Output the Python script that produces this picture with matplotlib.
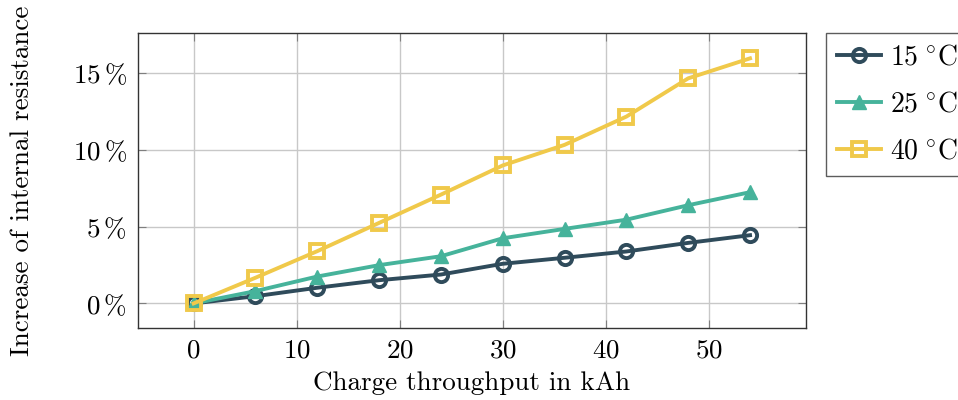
import matplotlib
matplotlib.use('Agg')
import matplotlib.pyplot as plt
from matplotlib.ticker import FuncFormatter

plt.rcParams['font.family'] = 'serif'
plt.rcParams['font.serif'] = ['cmr10']
plt.rcParams['mathtext.fontset'] = 'cm'
plt.rcParams['axes.formatter.use_mathtext'] = True

# charge throughput (kAh) and resistance increase (%) per temperature
throughput = [0, 6, 12, 18, 24, 30, 36, 42, 48, 54]
r_15 = [0, 0.47, 1.02, 1.51, 1.88, 2.58, 2.97, 3.38, 3.94, 4.44]
r_25 = [0, 0.80, 1.75, 2.49, 3.07, 4.24, 4.85, 5.45, 6.39, 7.24]
r_40 = [0, 1.67, 3.40, 5.24, 7.08, 8.98, 10.32, 12.16, 14.65, 15.95]
labels = [r'$15\;^{\circ}\mathrm{C}$', r'$25\;^{\circ}\mathrm{C}$',
          r'$40\;^{\circ}\mathrm{C}$']

fig = plt.figure(figsize=(9.58, 4.0), dpi=100)
ax = fig.add_axes([0.144, 0.18, 0.697, 0.7375])

ax.plot(throughput, r_15, color='#2f4b5b', lw=2.8, marker='o', ms=9.5,
        mfc='none', mew=2.8, label=labels[0])
ax.plot(throughput, r_25, color='#46b39b', lw=2.8, marker='^', ms=10.5,
        mec='#46b39b', label=labels[1])
ax.plot(throughput, r_40, color='#f0c94a', lw=2.8, marker='s', ms=9.5,
        mfc='none', mew=2.8, label=labels[2])

ax.set_xlim(-5.4, 59.4)
ax.set_ylim(-1.6, 17.6)
ax.set_xticks([0, 10, 20, 30, 40, 50])
ax.set_yticks([0, 5, 10, 15])
ax.xaxis.set_major_formatter(FuncFormatter(lambda v, p: r'$%d$' % v))
ax.yaxis.set_major_formatter(FuncFormatter(lambda v, p: r'$%d\,\%%$' % v))

ax.grid(True, color='#c8c8c8', lw=1.0)
ax.set_axisbelow(True)
ax.tick_params(direction='in', length=6, color='#7f7f7f', labelsize=19.5,
               top=True, right=True, pad=8)
for s in ax.spines.values():
    s.set_color('#333333')
    s.set_linewidth(1.0)

ax.set_xlabel('Charge throughput in kAh', fontsize=19.5, labelpad=6)
ax.set_ylabel('Increase of internal resistance', fontsize=19.5, labelpad=28)

ax.legend(loc='upper left', bbox_to_anchor=(1.03, 1.0), fontsize=20,
          frameon=True, fancybox=False, edgecolor='#333333',
          handlelength=1.6, borderpad=0.4, labelspacing=0.75,
          handletextpad=0.3, borderaxespad=0)

fig.savefig('out.png', dpi=100)
